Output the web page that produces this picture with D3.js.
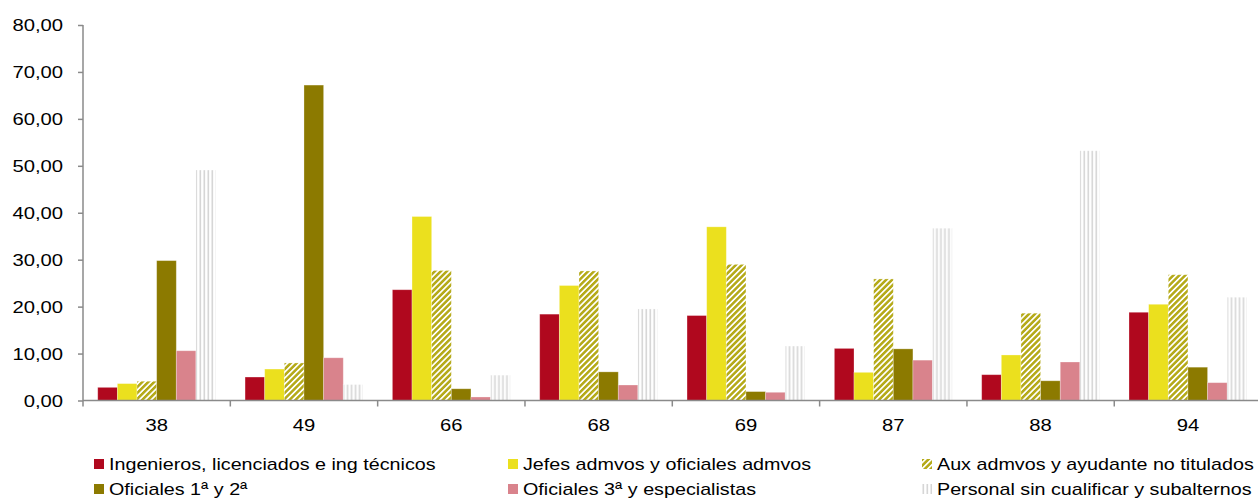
<!DOCTYPE html>
<html>
<head>
<meta charset="utf-8">
<script src="https://cdn.jsdelivr.net/npm/d3@7"></script>
<style>
  html, body { margin: 0; padding: 0; background: #fff; }
  svg { display: block; }
  text { font-family: "Liberation Sans", Arial, sans-serif; fill: #000; }
</style>
</head>
<body>
<svg id="chart" width="1258" height="498"></svg>
<script>
const categories = ["38", "49", "66", "68", "69", "87", "88", "94"];
const seriesNames = [
  "Ingenieros, licenciados e ing técnicos",
  "Jefes admvos y oficiales admvos",
  "Aux admvos y ayudante no titulados",
  "Oficiales 1ª y 2ª",
  "Oficiales 3ª y especialistas",
  "Personal sin cualificar y subalternos"
];
const ingenieros = [2.8, 5.0, 23.6, 18.4, 18.1, 11.1, 5.5, 18.8];
const jefes      = [3.6, 6.7, 39.2, 24.5, 37.0, 6.0, 9.7, 20.5];
const aux        = [4.1, 8.0, 27.7, 27.6, 29.0, 25.9, 18.6, 26.8];
const oficiales12 = [29.8, 67.2, 2.5, 6.1, 1.9, 11.0, 4.2, 7.1];
const oficiales3 = [10.6, 9.1, 0.75, 3.3, 1.75, 8.6, 8.2, 3.8];
const personal   = [49.1, 3.4, 5.4, 19.5, 11.6, 36.7, 53.2, 22.0];
const yTicks = [0, 10, 20, 30, 40, 50, 60, 70, 80];

const seriesValues = [ingenieros, jefes, aux, oficiales12, oficiales3, personal];
const fills = ["#b0081e", "#ebe01e", "url(#hatch)", "#8c7a00", "#d9838c", "url(#vlines)"];

const svg = d3.select("#chart");
const defs = svg.append("defs");

const hatch = defs.append("pattern")
  .attr("id", "hatch").attr("patternUnits", "userSpaceOnUse")
  .attr("width", 4.2).attr("height", 4.2)
  .attr("patternTransform", "rotate(45)");
hatch.append("rect").attr("width", 4.2).attr("height", 4.2).attr("fill", "#fff");
hatch.append("rect").attr("width", 2.5).attr("height", 4.2).attr("fill", "#b5aa18");

const vl = defs.append("pattern")
  .attr("id", "vlines").attr("patternUnits", "userSpaceOnUse")
  .attr("width", 4).attr("height", 4);
vl.append("rect").attr("width", 4).attr("height", 4).attr("fill", "#fff");
vl.append("rect").attr("x", 0.5).attr("width", 1.6).attr("height", 4).attr("fill", "#d6d6d6");

const x0 = d3.scaleBand().domain(categories).range([83, 1261.6]).padding(0);
const x1 = d3.scaleBand().domain(d3.range(seriesNames.length))
  .range([0, x0.bandwidth()]).paddingInner(0).paddingOuter(0.75);
const y = d3.scaleLinear().domain([0, 80]).range([400.5, 25]);

const axisColor = "#8a8a8a";
const SX = 1.19;
const SXL = 1.16;

// bars
const groups = svg.append("g").selectAll("g")
  .data(categories).join("g")
  .attr("transform", d => `translate(${x0(d)},0)`);
groups.selectAll("rect")
  .data((c, ci) => seriesValues.map((vals, si) => ({ si, v: vals[ci] })))
  .join("rect")
  .attr("x", d => x1(d.si))
  .attr("width", x1.bandwidth())
  .attr("y", d => y(d.v))
  .attr("height", d => y(0) - y(d.v))
  .attr("fill", d => fills[d.si])
  .attr("stroke", "rgba(255,255,255,0.35)")
  .attr("stroke-width", 0.8);

// y axis
const yAxisG = svg.append("g").attr("transform", "translate(83,0)")
  .call(d3.axisLeft(y).tickValues(yTicks).tickSize(5).tickFormat(() => ""));
yAxisG.select(".domain").attr("stroke", axisColor).attr("stroke-width", 1.5)
  .attr("d", `M-0,${y(80)}V${y(0) + 6}`);
yAxisG.selectAll(".tick line").attr("stroke", axisColor).attr("stroke-width", 1.5);
yAxisG.selectAll(".tick").each(function(d) {
  d3.select(this).append("g")
    .attr("transform", `translate(-20,0) scale(${SX},1)`)
    .append("text")
    .attr("text-anchor", "end")
    .attr("dy", "0.35em")
    .style("font-size", "17px")
    .text(d3.format(".2f")(d).replace(".", ","));
});

// x axis
const xAxisG = svg.append("g").attr("transform", `translate(0,${y(0)})`)
  .call(d3.axisBottom(x0).tickSize(0).tickFormat(() => ""));
xAxisG.select(".domain").attr("stroke", axisColor).attr("stroke-width", 1.5)
  .attr("d", `M83,0H1262`);
xAxisG.selectAll(".tick line").remove();
xAxisG.selectAll(".bound")
  .data(categories.slice(1))
  .join("line")
  .attr("x1", d => x0(d)).attr("x2", d => x0(d))
  .attr("y1", 0).attr("y2", 6)
  .attr("stroke", axisColor).attr("stroke-width", 1.5);
xAxisG.selectAll(".tick").each(function(d) {
  d3.select(this).append("g")
    .attr("transform", `translate(0,25) scale(${SX},1)`)
    .append("text")
    .attr("text-anchor", "middle")
    .attr("dy", "0.35em")
    .style("font-size", "17px")
    .text(d);
});

// legend
const colX = [94, 508, 922];
const rowY = [464, 489];
const legend = svg.append("g").selectAll("g")
  .data(seriesNames).join("g")
  .attr("transform", (d, i) => `translate(${colX[i % 3]},${rowY[Math.floor(i / 3)]})`);
legend.append("rect")
  .attr("x", 0).attr("y", -5).attr("width", 10).attr("height", 10)
  .attr("fill", (d, i) => fills[i]);
legend.append("g")
  .attr("transform", `translate(15,0) scale(${SXL},1)`)
  .append("text")
  .attr("dy", "0.35em")
  .style("font-size", "17px")
  .text(d => d);
</script>
</body>
</html>
